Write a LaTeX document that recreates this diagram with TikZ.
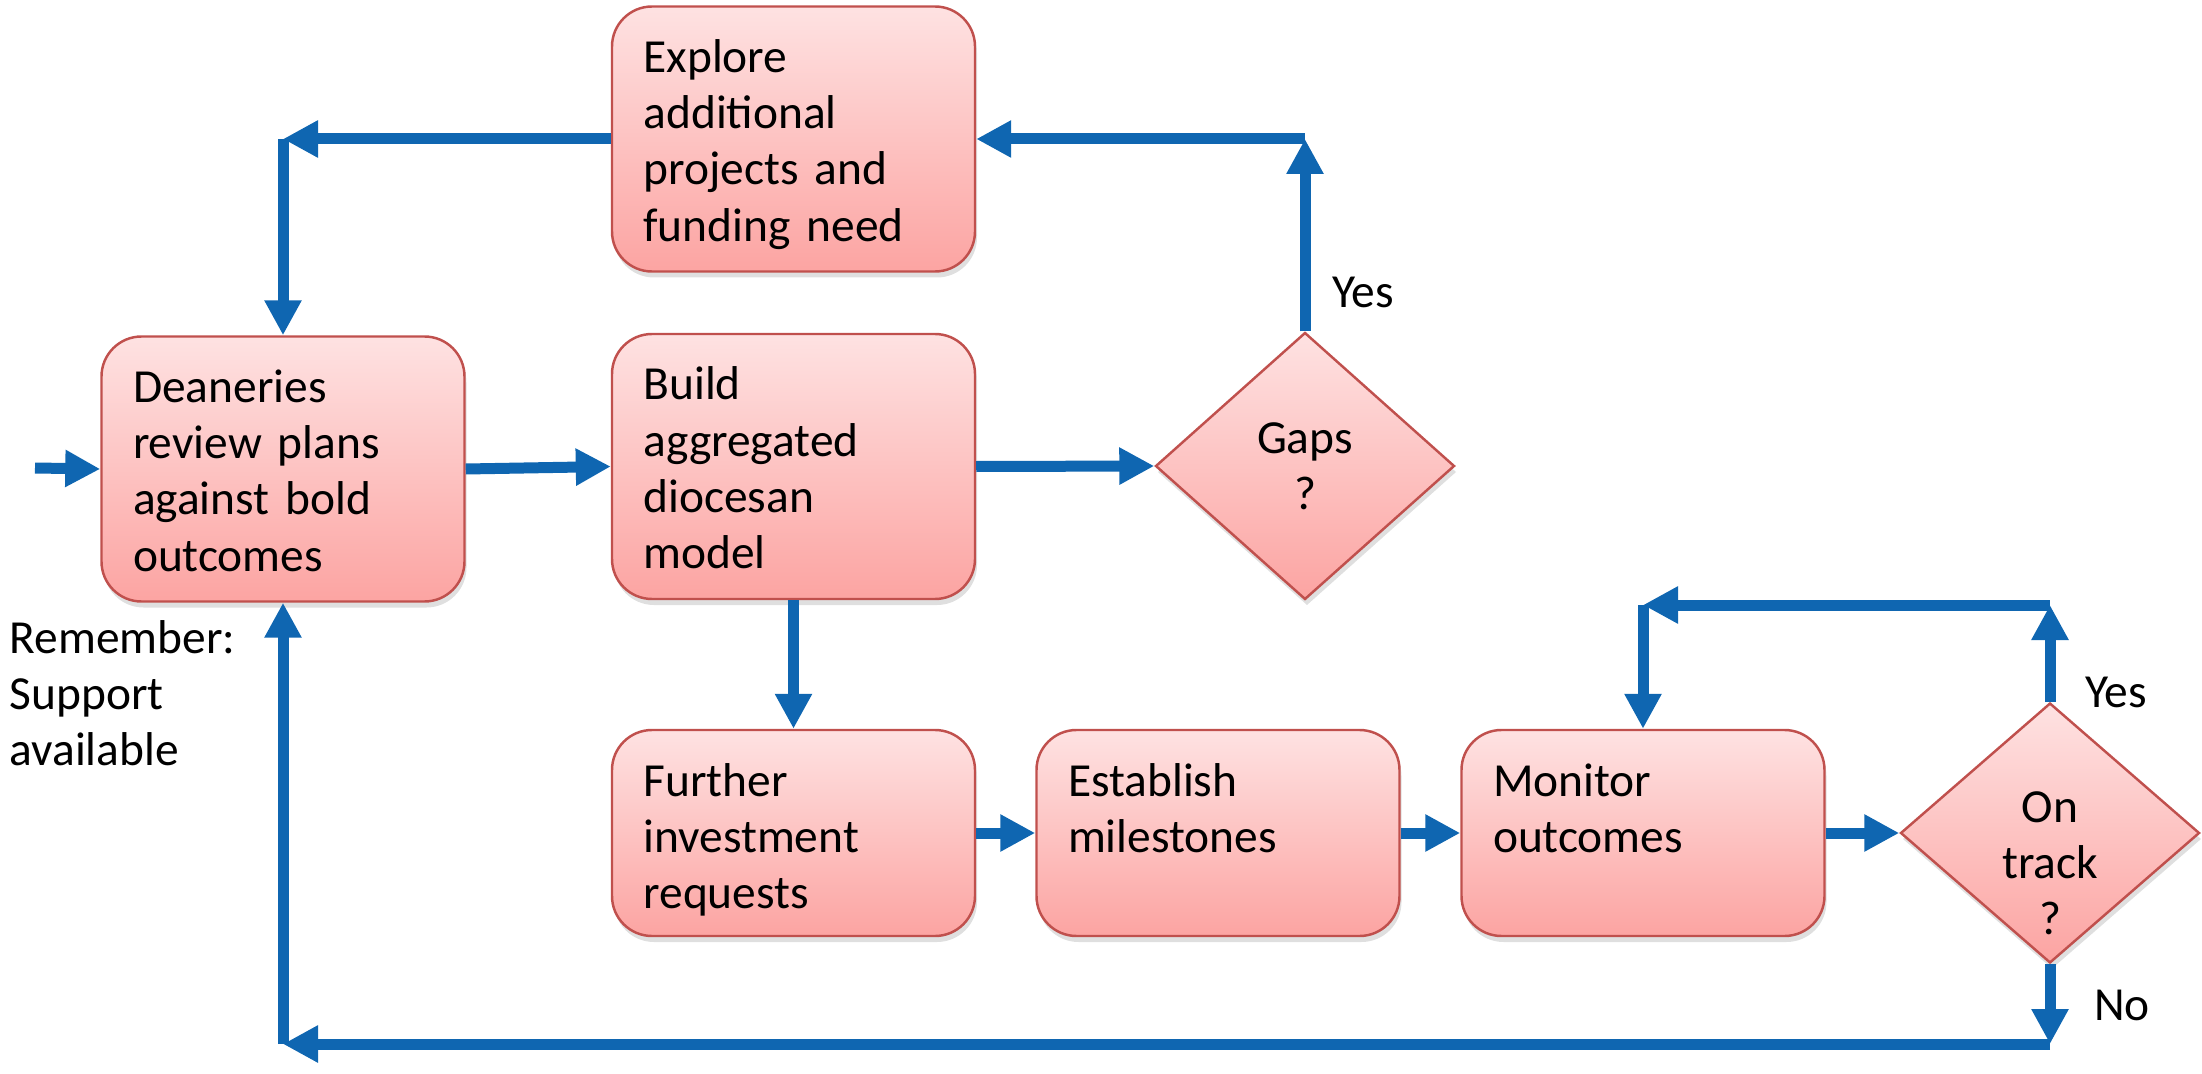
\documentclass[tikz,border=0pt]{standalone}
\usepackage{fontspec}
\setmainfont{Carlito}
\usetikzlibrary{shapes.geometric,arrows.meta,shadows}

\definecolor{flowblue}{HTML}{0F66B1}
\definecolor{boxedge}{HTML}{C0504D}
\definecolor{boxtop}{HTML}{FEE2E2}
\definecolor{boxbottom}{HTML}{FCA4A2}

\tikzset{
  stage/.style={draw=boxedge, line width=0.7pt, rounded corners=0.4cm,
    top color=boxtop, bottom color=boxbottom,
    drop shadow={shadow xshift=0.02cm, shadow yshift=-0.06cm, opacity=0.25},
    text width=3.0cm, align=left, inner xsep=0.315cm, inner ysep=0.3cm,
    text height=0.36cm},
  tall/.style={text depth=1.69cm},
  short/.style={text depth=1.10cm},
  decision/.style={diamond, draw=boxedge, line width=0.7pt,
    top color=boxtop, bottom color=boxbottom,
    drop shadow={shadow xshift=0.02cm, shadow yshift=-0.06cm, opacity=0.25},
    minimum width=2.99cm, minimum height=2.67cm, inner sep=0pt, align=center},
  flow/.style={draw=flowblue, line width=0.11cm, -{Triangle[length=0.35cm,width=0.35cm]}}
}

\begin{document}
\begin{tikzpicture}[font=\fontsize{13.5pt}{16pt}\selectfont]
	\useasboundingbox (0,0) rectangle (22.02,-10.74);
	
	\path (2.83,-4.69) node[stage, tall] (deanery) {Deaneries\\review plans\\against bold\\outcomes}
		(7.935,-4.665) node[stage, tall] (build) {Build\\aggregated\\diocesan\\model}
		(7.935,-1.39) node[stage, tall] (explore) {Explore\\additional\\projects and\\funding need}
		(13.05,-4.66) node[decision] (gaps) {Gaps\\?}
		(7.935,-8.33) node[stage, short] (further) {Further\\investment\\requests}
		(12.18,-8.33) node[stage, short] (milestone) {Establish\\milestones}
		(16.43,-8.33) node[stage, short] (monitor) {Monitor\\outcomes}
		(20.50,-8.33) node[decision, minimum height=2.60cm] (ontrack) {};
	\node[align=center] (tracktext) at (20.50,-8.635) {On\\track\\?};
	\node[anchor=base west, text width=2.3cm, align=left, inner sep=0pt] (remember) at (0.09,-6.53) {Remember:\\Support\\available};
	
	\coordinate (start) at (0.35,-4.68);
	\coordinate (gapturn) at (gaps.north |- explore.east);
	\coordinate (leftturn) at (deanery.north |- explore.west);
	\coordinate (trackturn) at (20.50,-6.05);
	\coordinate (monitorturn) at (monitor.north |- trackturn);
	\coordinate (noturn) at (20.50,-10.44);
	\coordinate (backturn) at (deanery.south |- noturn);
	
	\draw[flow] (start) -- (deanery.west);
	\draw[flow] (deanery.east) -- (build.west);
	\draw[flow] (build.east) -- (gaps.west);
	\draw[flow] (gaps.north) -- node[anchor=west, pos=0.2, xshift=0.1cm, text=black] (gapsyes) {Yes} (gapturn);
	\draw[flow] (gapturn) -- (explore.east);
	\draw[flow] (explore.west) -- (leftturn);
	\draw[flow] (leftturn) -- (deanery.north);
	\draw[flow] (build.south) -- (further.north);
	\draw[flow] (further.east) -- (milestone.west);
	\draw[flow] (milestone.east) -- (monitor.west);
	\draw[flow] (monitor.east) -- (ontrack.west);
	\draw[flow] (ontrack.north) -- node[anchor=west, pos=0.1, xshift=0.18cm, text=black] (trackyes) {Yes} (trackturn);
	\draw[flow] (trackturn) -- (monitorturn);
	\draw[flow] (monitorturn) -- (monitor.north);
	\draw[flow] (ontrack.south) -- node[anchor=west, pos=0.52, xshift=0.27cm, text=black] (trackno) {No} (noturn);
	\draw[flow] (noturn) -- (backturn);
	\draw[flow] (backturn) -- (deanery.south);
\end{tikzpicture}
\end{document}
